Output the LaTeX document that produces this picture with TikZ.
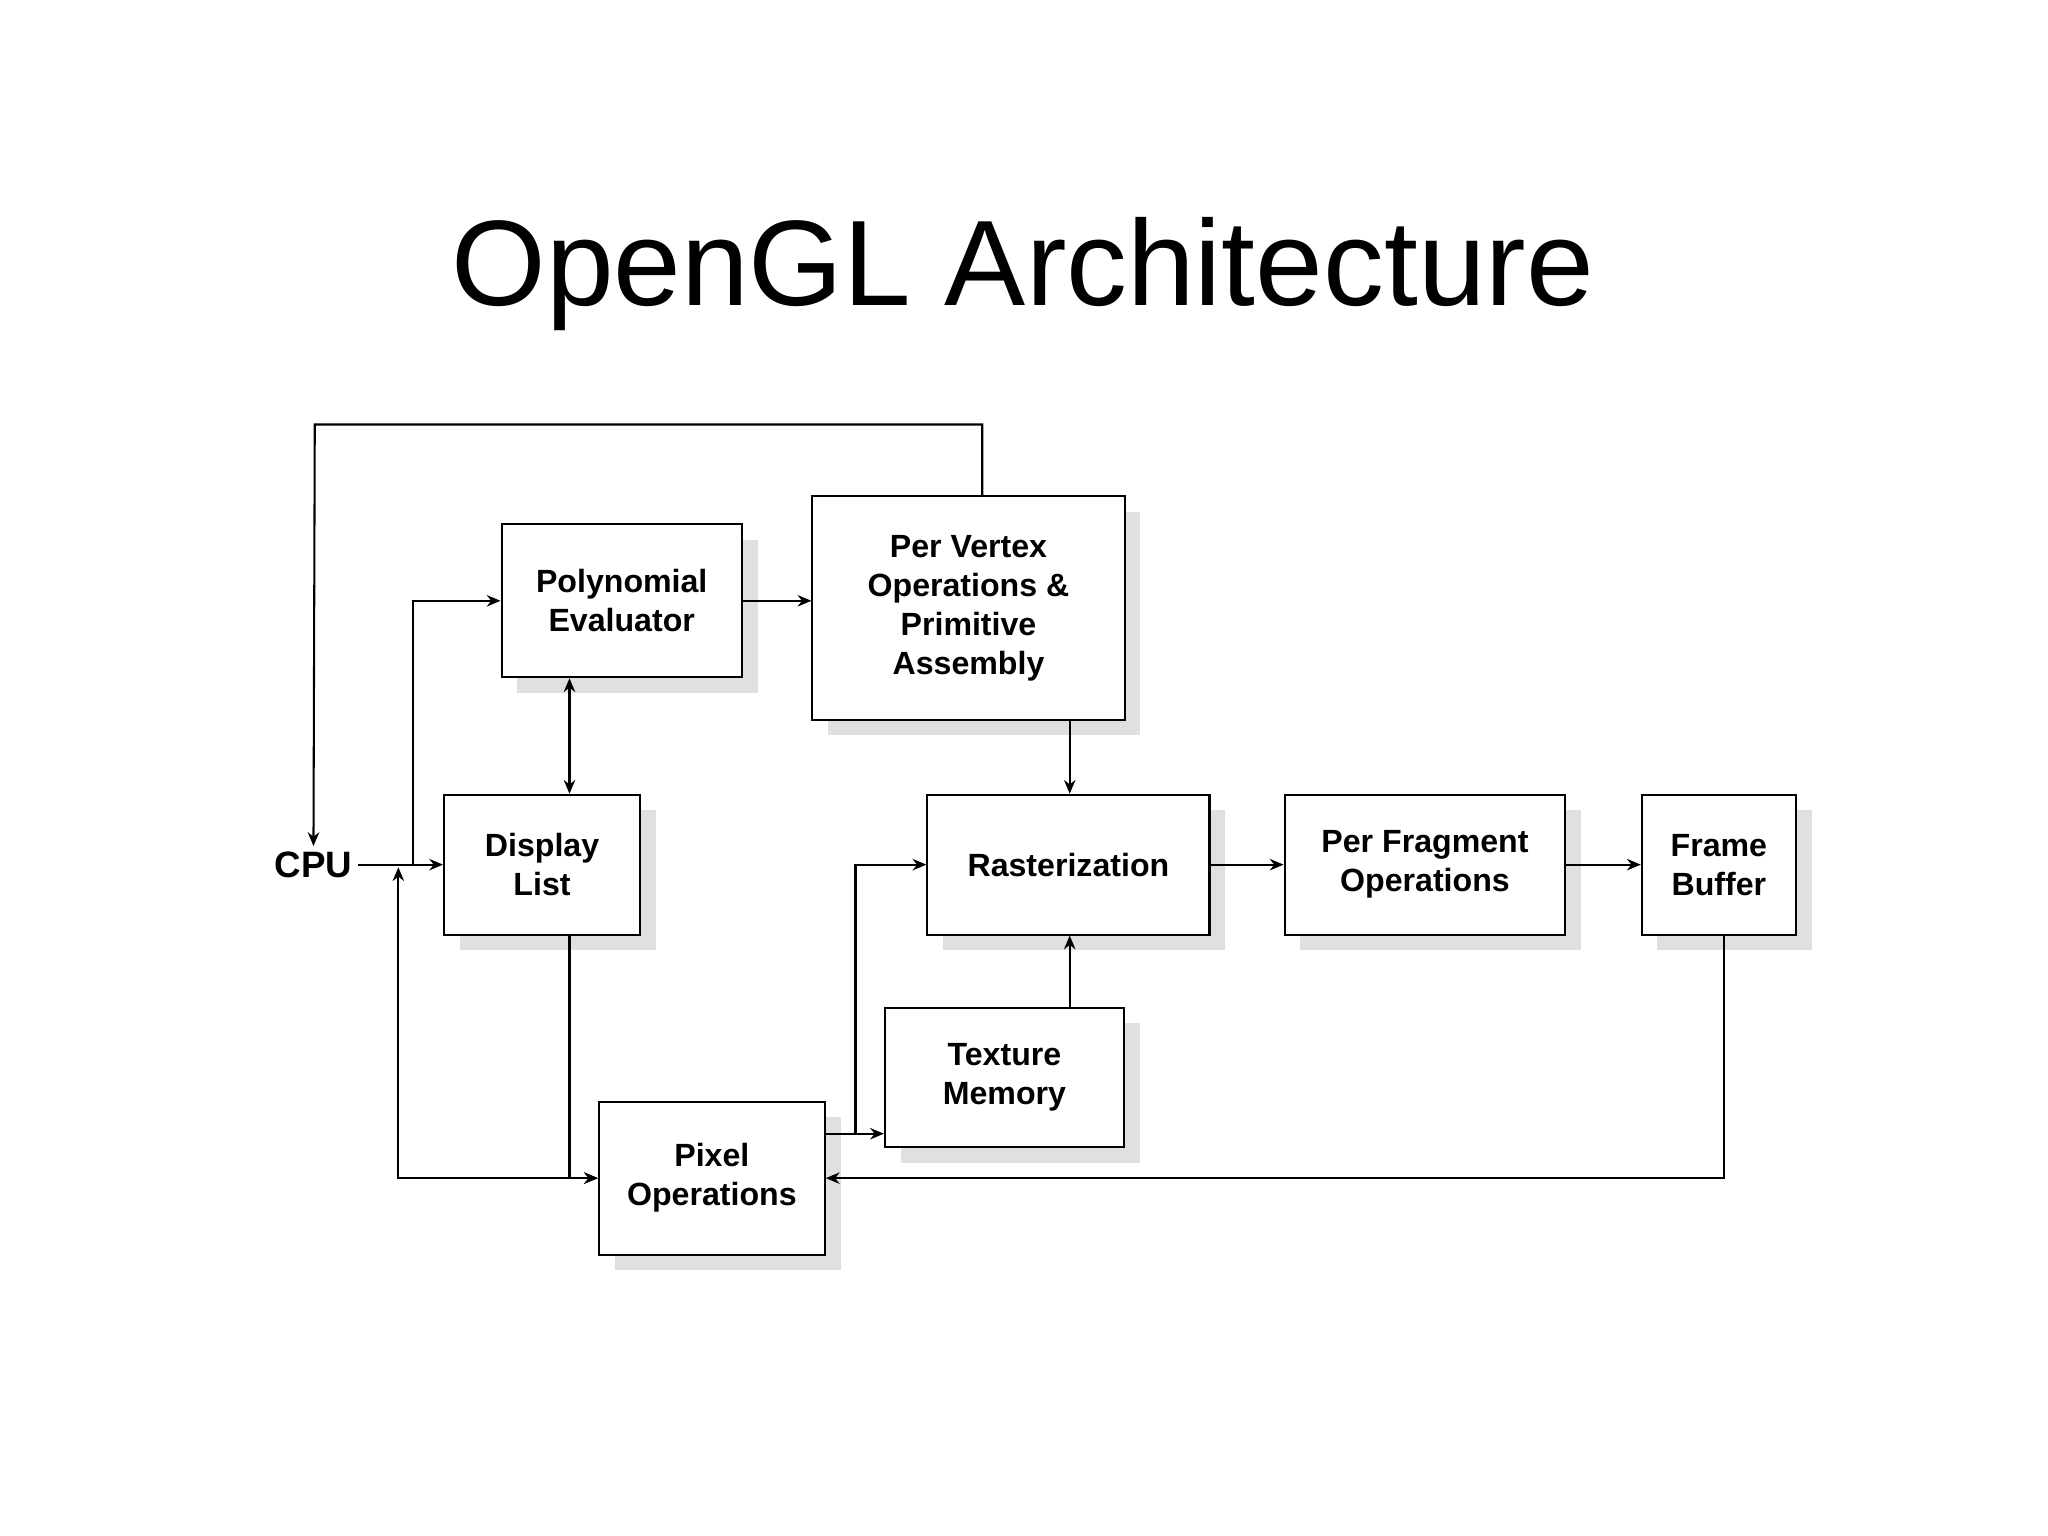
\documentclass[tikz,border=0pt]{standalone}
\usepackage{fontspec}
\setmainfont{Liberation Sans}
\usetikzlibrary{calc,arrows.meta}
\begin{document}
\begin{tikzpicture}[x=0.02cm,y=-0.02cm,>={Stealth[length=6pt,width=5pt]}, line width=0.9pt]
    \tikzset{blk/.style={draw,fill=white,align=center,font=\fontsize{14}{17}\selectfont\bfseries,inner sep=0pt},
             shd/.style={fill=black!12,draw=none}};
    \useasboundingbox (0,0) rectangle (1568,1176);
    \node[font=\fontsize{53}{53}\selectfont] (title) at (783,210) {OpenGL Architecture};

    % blocks with shadows
    \foreach \nm/\cx/\cy/\w/\h/\txt in {poly/476/460/184/117/{Polynomial\\Evaluator},
        vert/741.5/465.5/239/171/{Per Vertex\\Operations \&\\Primitive\\Assembly},
        disp/415/662/150/107/{Display\\List},
        rast/818/662/216/107/{Rasterization},
        frag/1091/662/215/107/{Per Fragment\\Operations},
        fbuf/1316/662/118/107/{Frame\\Buffer},
        tex/769/825/183/107/{Texture\\Memory},
        pix/545/902/173/117/{Pixel\\Operations}}{
      \fill[shd] (\cx-\w/2+12,\cy-\h/2+12) rectangle (\cx+\w/2+12,\cy+\h/2+12);
      \node[blk,minimum width=\w*0.02cm,minimum height=\h*0.02cm] (\nm) at (\cx,\cy) {\txt};
    }
    \node[font=\fontsize{16}{16}\selectfont\bfseries,inner sep=2pt] (cpu) at (240,662) {CPU};

    \coordinate (j1) at (316,662);
    \draw (cpu.east) -- (j1);
    \draw[->] (j1) -- (disp.west);
    \draw[->] (j1) |- (poly.west);
    \draw[->] (vert.north -| 752,0) |- (241,325) -- (cpu.north);
    \draw[->] (poly.east) -- (poly.east -| vert.west);
    \draw[<->] (poly.south -| 436,0) -- (disp.north -| 436,0);
    \draw[->] (vert.south -| 819,0) -- (rast.north -| 819,0);
    \draw[->] (rast.east) -- (frag.west);
    \draw[->] (frag.east) -- (fbuf.west);
    \draw[->] (tex.north -| 819,0) -- (rast.south -| 819,0);
    \draw[->] (disp.south -| 436,0) |- (pix.west);
    \draw[<->] (pix.west) -| (305,664);
    \draw[->] (pix.east |- 0,868) -- (655,868) |- (rast.west);
    \draw[->] (655,868) -- (tex.west |- 0,868);
    \draw[->] (fbuf.south -| 1320,0) |- (pix.east);
\end{tikzpicture}
\end{document}
